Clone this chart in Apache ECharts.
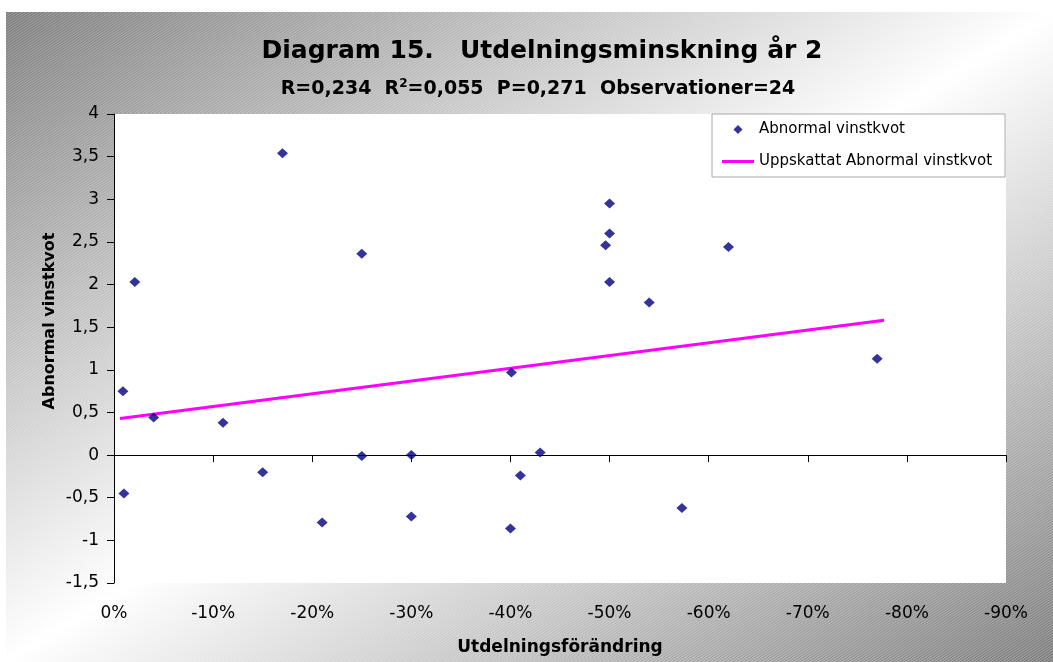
<!DOCTYPE html>
<html>
<head>
<meta charset="utf-8">
<script src="https://cdn.jsdelivr.net/npm/echarts@6/dist/echarts.min.js"></script>
<style>
html,body{margin:0;padding:0;background:#ffffff;}
#chart{width:1053px;height:662px;}
</style>
</head>
<body>
<div id="chart"></div>
<script>
// ---- texts ----
const titleText = 'Diagram 15.   Utdelningsminskning år 2';
const statR = '0,234';
const statR2 = '0,055';
const statP = '0,271';
const statN = '24';
const xAxisName = 'Utdelningsförändring';
const yAxisName = 'Abnormal vinstkvot';
const seriesNames = ['Abnormal vinstkvot', 'Uppskattat Abnormal vinstkvot'];

// ---- data (x in percent, y = abnormal vinstkvot) ----
const xValues = [-0.9, -1.0, -2.1, -4.0, -11.0, -15.0, -17.0, -21.0, -25.0, -25.0, -30.0, -30.0,
                 -40.1, -40.0, -41.0, -43.0, -49.6, -50.0, -50.0, -50.0, -54.0, -57.3, -62.0, -77.0];
const yValues = [0.75, -0.45, 2.03, 0.44, 0.38, -0.20, 3.54, -0.79, 2.36, -0.01, 0.00, -0.72,
                 0.97, -0.86, -0.24, 0.03, 2.46, 2.95, 2.60, 2.03, 1.79, -0.62, 2.44, 1.13];
// estimated (fitted) line, read at its two ends
const trendX = [-0.6, -77.7];
const trendY = [0.43, 1.58];

// ---- axis ticks ----
const xMin = -90, xMax = 0, xStep = 10;
const yMin = -1.5, yMax = 4, yStep = 0.5;

const FONT = '"DejaVu Sans", "Liberation Sans", Arial, sans-serif';

function makeBackground(w, h) {
  const c = document.createElement('canvas');
  c.width = w; c.height = h;
  const ctx = c.getContext('2d');
  const k = w * h / (w * w + h * h);
  const cx = w / 2, cy = h / 2;
  const g = ctx.createLinearGradient(cx - k * h, cy - k * w, cx + k * h, cy + k * w);
  g.addColorStop(0, '#7a7a7a');
  g.addColorStop(0.5, '#ffffff');
  g.addColorStop(1, '#7a7a7a');
  ctx.fillStyle = g;
  ctx.fillRect(0, 0, w, h);
  ctx.strokeStyle = 'rgba(255,255,255,0.30)';
  ctx.lineWidth = 1;
  const slope = 0.65;
  const span = h / slope;
  for (let x0 = -span; x0 < w; x0 += 4) {
    ctx.beginPath();
    ctx.moveTo(x0, h);
    ctx.lineTo(x0 + span, 0);
    ctx.stroke();
  }
  return c;
}

const chart = echarts.init(document.getElementById('chart'), null, {renderer: 'canvas'});

const scatterData = xValues.map((x, i) => [x, yValues[i]]);
const trendData = trendX.map((x, i) => [x, trendY[i]]);
const pct = v => Math.round(v) + '%';
const dec = v => String(v).replace('.', ',');

const bg = makeBackground(1047, 650);

const xBase = {type: 'value', min: xMin, max: xMax, interval: xStep, inverse: true, splitLine: {show: false}};
const yBase = {type: 'value', min: yMin, max: yMax, interval: yStep, splitLine: {show: false}};

const option = {
  backgroundColor: 'transparent',
  animation: false,
  grid: {
    left: 114, right: 47, top: 114, bottom: 79,
    outerBoundsMode: 'none',
    containLabel: false,
    show: true, backgroundColor: '#ffffff', borderWidth: 0
  },
  graphic: [
    {type: 'image', x: 6, y: 12, z: -100, silent: true,
     style: {image: bg, width: 1047, height: 650}},
    {type: 'text', x: 542, y: 51, z: 10, silent: true,
     style: {text: titleText, fontFamily: FONT, fontSize: 25, fontWeight: 'bold',
             fill: '#000', align: 'center', verticalAlign: 'middle'}},
    {type: 'text', x: 538, y: 89, z: 10, silent: true,
     style: {
       text: '{m|R=' + statR + '  R}{s|2}{m|=' + statR2 + '  P=' + statP + '  Observationer=' + statN + '}',
       align: 'center', verticalAlign: 'middle',
       rich: {
         m: {fontFamily: FONT, fontSize: 19, fontWeight: 'bold', fill: '#000', lineHeight: 22},
         s: {fontFamily: FONT, fontSize: 12, fontWeight: 'bold', fill: '#000', verticalAlign: 'top', lineHeight: 12}
       }
     }},
    {type: 'text', x: 50, y: 321, rotation: Math.PI / 2, z: 10, silent: true,
     style: {text: yAxisName, fontFamily: FONT, fontSize: 16, fontWeight: 'bold',
             fill: '#000', align: 'center', verticalAlign: 'middle'}}
  ],
  legend: {
    orient: 'vertical',
    left: 712, top: 114,
    padding: [7, 13, 7, 10],
    itemGap: 15,
    itemWidth: 32, itemHeight: 9,
    symbolKeepAspect: true,
    backgroundColor: '#ffffff',
    borderColor: '#a8a8a8', borderWidth: 1, borderRadius: 0,
    textStyle: {fontFamily: FONT, fontSize: 15, color: '#000', lineHeight: 17},
    data: [
      {name: seriesNames[0], icon: 'path://M5,0L10,5L5,10L0,5Z'},
      {name: seriesNames[1], icon: 'path://M0,0L32,0L32,3L0,3Z'}
    ]
  },
  xAxis: [
    // tick labels and axis title along the bottom edge of the plot
    Object.assign({}, xBase, {
      position: 'bottom',
      axisLine: {show: false, onZero: false},
      axisTick: {show: false},
      axisLabel: {margin: 22, fontFamily: FONT, fontSize: 17, color: '#000', formatter: pct},
      name: xAxisName, nameLocation: 'middle', nameGap: 56,
      nameTextStyle: {fontFamily: FONT, fontSize: 17, fontWeight: 'bold', color: '#000'}
    }),
    // axis line at y = 0 with ticks
    Object.assign({}, xBase, {
      position: 'top',
      axisLine: {show: true, onZero: true, onZeroAxisIndex: 0, lineStyle: {color: '#000', width: 1}},
      axisTick: {show: true, inside: true, length: 7, lineStyle: {color: '#000', width: 1}},
      axisLabel: {show: false}
    })
  ],
  yAxis: [
    Object.assign({}, yBase, {
      position: 'left',
      axisLine: {show: true, onZero: false, lineStyle: {color: '#000', width: 1}},
      axisTick: {show: true, inside: false, length: 7, lineStyle: {color: '#000', width: 1}},
      axisLabel: {margin: 15, fontFamily: FONT, fontSize: 17, color: '#000', formatter: dec}
    })
  ],
  series: [
    {
      name: seriesNames[1], type: 'line', xAxisIndex: 0, yAxisIndex: 0,
      data: trendData, symbol: 'none', z: 2,
      lineStyle: {color: '#ff00ff', width: 3},
      itemStyle: {color: '#ff00ff'}
    },
    {
      name: seriesNames[0], type: 'scatter', xAxisIndex: 0, yAxisIndex: 0,
      data: scatterData, symbol: 'diamond', symbolSize: [11, 10], z: 3,
      itemStyle: {color: '#000080'}
    }
  ]
};
chart.setOption(option);
</script>
</body>
</html>
